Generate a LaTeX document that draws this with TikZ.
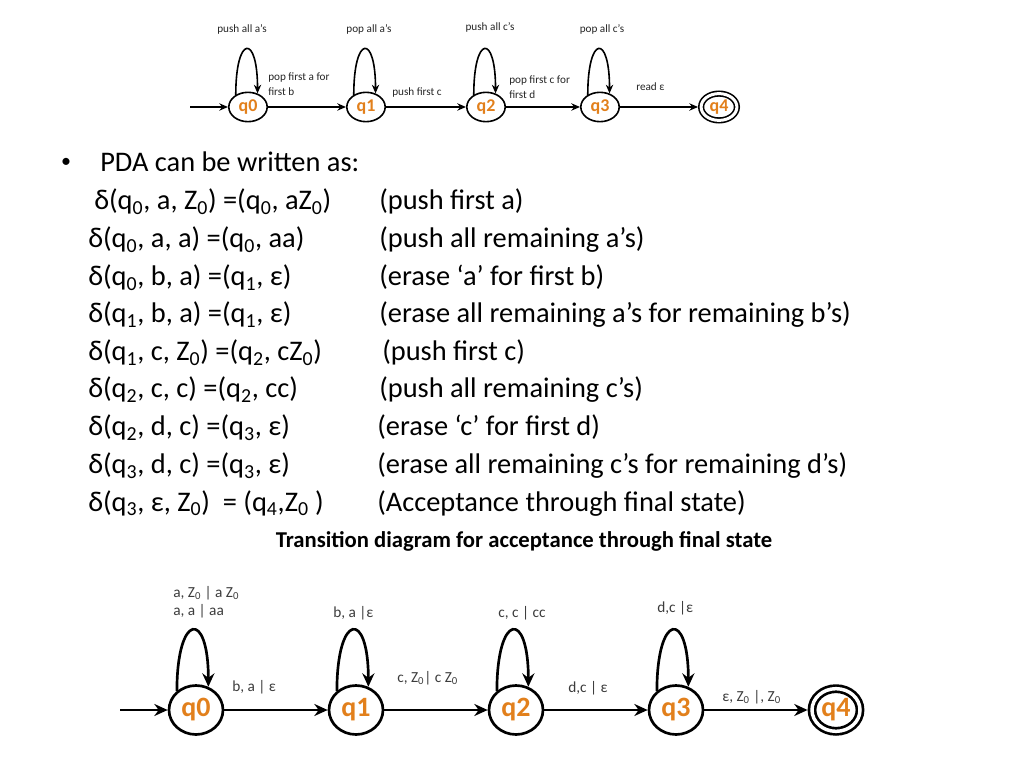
\documentclass[tikz,border=0pt]{standalone}
\usepackage{fontspec}
\setmainfont{Carlito}
\usetikzlibrary{shapes.geometric,arrows.meta,positioning}
\definecolor{qorange}{RGB}{226,128,28}
\definecolor{lblgray}{RGB}{60,60,60}
\newcommand{\sbs}[1]{\textsubscript{#1}}

\begin{document}
\begin{tikzpicture}[x=0.75pt,y=0.75pt,
  smallstate/.style={ellipse,draw,line width=1.2pt,minimum width=28.8pt,minimum height=22pt,
    inner sep=0pt,text=qorange,font=\fontsize{13.5}{16}\selectfont\bfseries},
  smallfinal/.style={smallstate,double,double distance=2.25pt,outer sep=2.3pt,
    minimum width=26.85pt,minimum height=20.1pt},
  bigstate/.style={ellipse,draw,line width=2pt,minimum width=40.5pt,minimum height=36.75pt,
    inner sep=0pt,text=qorange,font=\fontsize{21}{25}\selectfont\bfseries},
  bigfinal/.style={bigstate,double,double distance=2.6pt,outer sep=3.3pt,
    minimum width=36pt,minimum height=32pt},
  smallarrow/.style={line width=1.2pt,-{Stealth[length=6.5pt,width=5.5pt]}},
  bigarrow/.style={line width=2pt,-{Stealth[length=10pt,width=9pt]}},
  smalllabel/.style={font=\fontsize{8.4}{11.25}\selectfont,text=black!85,inner sep=0pt,align=left},
  biglabel/.style={font=\fontsize{11.5}{13.5}\selectfont,text=lblgray,inner sep=0pt,align=left},
  rowtext/.style={font=\fontsize{21.3}{25}\selectfont,inner sep=0pt,anchor=base west}
]

       \fill[white] (0,0) rectangle (1024,768);

       % small diagram
       \node[smallstate] (a0) at (248,661) {q0};
       \node[smallstate] (a1) at (366,661) {q1};
       \node[smallstate] (a2) at (486,661) {q2};
       \node[smallstate] (a3) at (600,661) {q3};
       \node[smallfinal] (a4) at (719,661) {q4};
       \coordinate (astart) at (190,661);

       \draw[smallarrow] (astart) -- (a0);
       \draw[smallarrow] (a0) -- (a1);
       \draw[smallarrow] (a1) -- (a2);
       \draw[smallarrow] (a2) -- (a3);
       \draw[smallarrow] (a3) -- (a4);

       \draw[smallarrow] (a0.135) .. controls +(0,60) and +(0,60) .. (a0.55);
       \draw[smallarrow] (a1.135) .. controls +(0,60) and +(0,60) .. (a1.55);
       \draw[smallarrow] (a2.135) .. controls +(0,60) and +(0,60) .. (a2.55);
       \draw[smallarrow] (a3.135) .. controls +(0,60) and +(0,60) .. (a3.55);

       \node[smalllabel] (la0) at (242,739) {push all a's};
       \node[smalllabel] (la1) at (369,739) {pop all a's};
       \node[smalllabel] (la2) at (490,741) {push all c's};
       \node[smalllabel] (la3) at (602,739) {pop all c's};

       \node[smalllabel,anchor=west] (la01) at (268,684) {pop first a for\\first b};
       \node[smalllabel,anchor=west] (la12) at (392,675) {push first c};
       \node[smalllabel,anchor=west] (la23) at (509,680.5) {pop first c for\\first d};
       \node[smalllabel,anchor=west] (la34) at (636,681) {read ε};

       % transition list
       \node[font=\fontsize{15}{18}\selectfont] (bullet) at (66,605) {•};
       \node[rowtext] (intro) at (100,596) {PDA can be written as:};

       \node[rowtext] (d1) at (94,558) {δ(q\sbs{0}, a, Z\sbs{0}) =(q\sbs{0}, aZ\sbs{0})};
       \node[rowtext] (d2) at (88,520) {δ(q\sbs{0}, a, a) =(q\sbs{0}, aa)};
       \node[rowtext] (d3) at (88,482) {δ(q\sbs{0}, b, a) =(q\sbs{1}, ε)};
       \node[rowtext] (d4) at (88,445) {δ(q\sbs{1}, b, a) =(q\sbs{1}, ε)};
       \node[rowtext] (d5) at (88,407) {δ(q\sbs{1}, c, Z\sbs{0}) =(q\sbs{2}, cZ\sbs{0})};
       \node[rowtext] (d6) at (88,370) {δ(q\sbs{2}, c, c) =(q\sbs{2}, cc)};
       \node[rowtext] (d7) at (88,332) {δ(q\sbs{2}, d, c) =(q\sbs{3}, ε)};
       \node[rowtext] (d8) at (88,294) {δ(q\sbs{3}, d, c) =(q\sbs{3}, ε)};
       \node[rowtext] (d9) at (88,257) {δ(q\sbs{3}, ε, Z\sbs{0})~ = (q\sbs{4},Z\sbs{0} )};

       \node[rowtext] (c1) at (379,558) {(push first a)};
       \node[rowtext] (c2) at (379,520) {(push all remaining a’s)};
       \node[rowtext] (c3) at (379,482) {(erase ‘a’ for first b)};
       \node[rowtext] (c4) at (379,445) {(erase all remaining a’s for remaining b’s)};
       \node[rowtext] (c5) at (382,407) {(push first c)};
       \node[rowtext] (c6) at (379,370) {(push all remaining c’s)};
       \node[rowtext] (c7) at (377,332) {(erase ‘c’ for first d)};
       \node[rowtext] (c8) at (377,294) {(erase all remaining c’s for remaining d’s)};
       \node[rowtext] (c9) at (377,257) {(Acceptance through final state)};

       \node[font=\fontsize{17}{20}\selectfont\bfseries,anchor=base,inner sep=0pt] (title) at (524,221)
       {Transition diagram for acceptance through final state};

       % big diagram
       \node[bigstate] (b0) at (196,58) {q0};
       \node[bigstate] (b1) at (356,58) {q1};
       \node[bigstate] (b2) at (516,58) {q2};
       \node[bigstate] (b3) at (676,58) {q3};
       \node[bigfinal] (b4) at (836,58) {q4};
       \coordinate (bstart) at (120,58);

       \draw[bigarrow] (bstart) -- (b0);
       \draw[bigarrow] (b0) -- (b1);
       \draw[bigarrow] (b1) -- (b2);
       \draw[bigarrow] (b2) -- (b3);
       \draw[bigarrow] (b3) -- (b4);

       \draw[bigarrow] (b0.135) .. controls +(0,78) and +(0,78) .. (b0.62);
       \draw[bigarrow] (b1.135) .. controls +(0,78) and +(0,78) .. (b1.62);
       \draw[bigarrow] (b2.135) .. controls +(0,78) and +(0,78) .. (b2.62);
       \draw[bigarrow] (b3.135) .. controls +(0,78) and +(0,78) .. (b3.62);

       \node[biglabel,anchor=west] (lb00) at (173,166) {a, Z\sbs{0} | a Z\sbs{0}\\a, a | aa};
       \node[biglabel,anchor=west] (lb01) at (232,81) {b, a | ε};
       \node[biglabel,anchor=west] (lb11) at (333,155) {b, a |ε};
       \node[biglabel,anchor=west] (lb12) at (397,90) {c, Z\sbs{0}| c Z\sbs{0}};
       \node[biglabel,anchor=west] (lb22) at (498,155) {c, c | cc};
       \node[biglabel,anchor=west] (lb23) at (568,80) {d,c | ε};
       \node[biglabel,anchor=west] (lb33) at (657,160) {d,c |ε};
       \node[biglabel,anchor=west] (lb34) at (722,71) {ε, Z\sbs{0} |, Z\sbs{0}};

\end{tikzpicture}
\end{document}
